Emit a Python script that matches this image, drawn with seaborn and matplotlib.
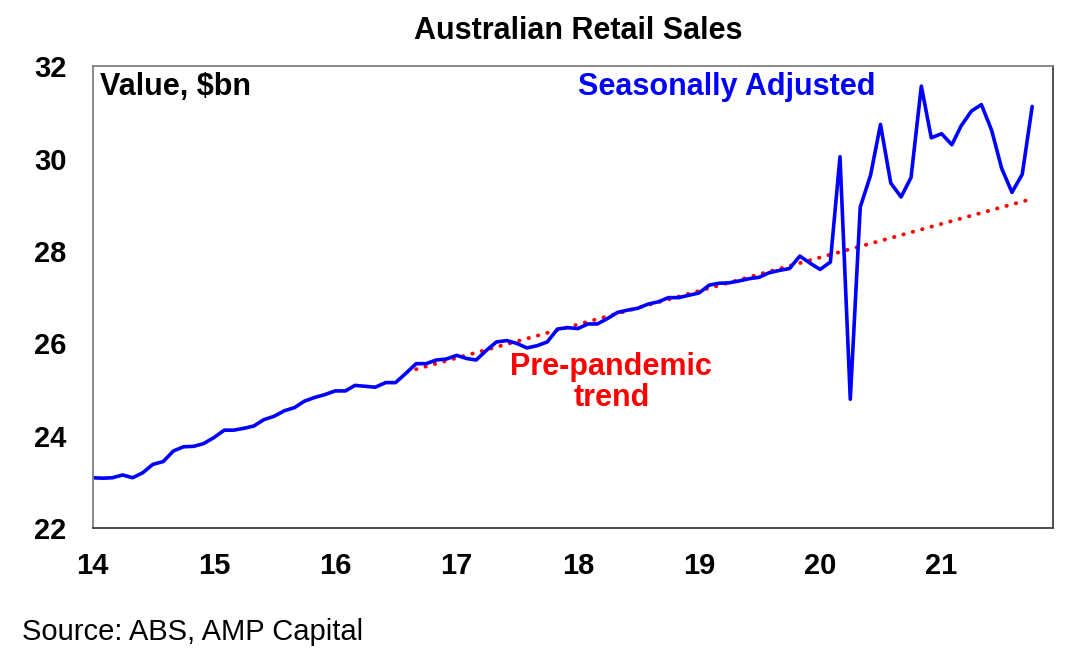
import matplotlib
matplotlib.use("Agg")
import matplotlib.pyplot as plt
import seaborn as sns
import pandas as pd

# Monthly retail sales, seasonally adjusted ($bn), Jan 2014 - Oct 2021
start_month = "2014-01-01"
sales = [
    23.09, 23.08, 23.09, 23.15, 23.09, 23.20, 23.38, 23.44, 23.67, 23.76,
    23.77, 23.83, 23.96, 24.12, 24.12, 24.16, 24.21, 24.35, 24.42, 24.54,
    24.61, 24.75, 24.83, 24.89, 24.97, 24.97, 25.09, 25.07, 25.05, 25.15,
    25.15, 25.35, 25.56, 25.56, 25.64, 25.66, 25.74, 25.67, 25.64, 25.85,
    26.03, 26.06, 26.00, 25.90, 25.95, 26.03, 26.31, 26.34, 26.32, 26.42,
    26.42, 26.54, 26.67, 26.72, 26.76, 26.85, 26.90, 26.99, 26.99, 27.04,
    27.09, 27.26, 27.30, 27.31, 27.35, 27.40, 27.43, 27.53, 27.58, 27.62,
    27.89, 27.74, 27.60, 27.76, 30.04, 24.79, 28.95, 29.64, 30.74, 29.47,
    29.17, 29.59, 31.57, 30.45, 30.54, 30.30, 30.71, 31.03, 31.17, 30.61,
    29.79, 29.27, 29.66, 31.13,
]

# Pre-pandemic trend line end points
trend_dates = ["2016-09-01", "2021-10-01"]
trend_values = [25.44, 29.13]

year_ticks = [2014, 2015, 2016, 2017, 2018, 2019, 2020, 2021]
year_labels = ["14", "15", "16", "17", "18", "19", "20", "21"]
y_ticks = [22, 24, 26, 28, 30, 32]

sales_df = pd.DataFrame({
    "date": pd.date_range(start_month, periods=len(sales), freq="MS"),
    "value": sales,
})
trend_df = pd.DataFrame({"date": pd.to_datetime(trend_dates), "value": trend_values})

sns.set_style("white")
plt.rcParams["font.family"] = ["Liberation Sans", "DejaVu Sans"]
plt.rcParams["text.color"] = "black"
plt.rcParams["xtick.color"] = "black"
plt.rcParams["ytick.color"] = "black"

FS = 22

fig = plt.figure(figsize=(10.79, 6.56), dpi=100)
ax = fig.add_axes([0.086, 0.195, 0.89, 0.704])

sns.lineplot(data=trend_df, x="date", y="value", ax=ax, color="#ff0000",
             linewidth=2.8, linestyle=(0, (0.1, 2.4)), dash_capstyle="round")
sns.lineplot(data=sales_df, x="date", y="value", ax=ax, color="#0000ff",
             linewidth=2.6)

# Axes
ax.set_xlim(pd.Timestamp("2014-01-01"), pd.Timestamp("2021-12-03"))
ax.set_ylim(22, 32)
ax.set_xticks([pd.Timestamp(f"{y}-01-01") for y in year_ticks])
ax.set_xticklabels(year_labels)
ax.set_yticks(y_ticks)
ax.tick_params(axis="both", length=0, labelsize=21)
ax.tick_params(axis="x", pad=17)
ax.tick_params(axis="y", pad=19)
for lbl in ax.get_xticklabels() + ax.get_yticklabels():
    lbl.set_fontweight("bold")
ax.set_xlabel("")
ax.set_ylabel("")
for sp in ax.spines.values():
    sp.set_color("#808080")
    sp.set_linewidth(1.3)
ax.spines["right"].set_color("#404040")
ax.spines["bottom"].set_color("#404040")

# Annotations
ax.text(0.007, 0.955, "Value, $bn", transform=ax.transAxes, ha="left", va="center",
        fontsize=FS, fontweight="bold")
ax.text(0.505, 0.955, "Seasonally Adjusted", transform=ax.transAxes, ha="left",
        va="center", fontsize=FS, fontweight="bold", color="#0000ff")
ax.text(0.54, 0.315, "Pre-pandemic\ntrend", transform=ax.transAxes, ha="center",
        va="center", fontsize=FS, fontweight="bold", color="#ff0000",
        linespacing=1.05)

fig.text(0.536, 0.952, "Australian Retail Sales", ha="center", va="center",
         fontsize=FS, fontweight="bold")
fig.text(0.02, 0.037, "Source: ABS, AMP Capital", ha="left", va="center",
         fontsize=21)

fig.savefig("out.png", dpi=100)
plt.close(fig)
